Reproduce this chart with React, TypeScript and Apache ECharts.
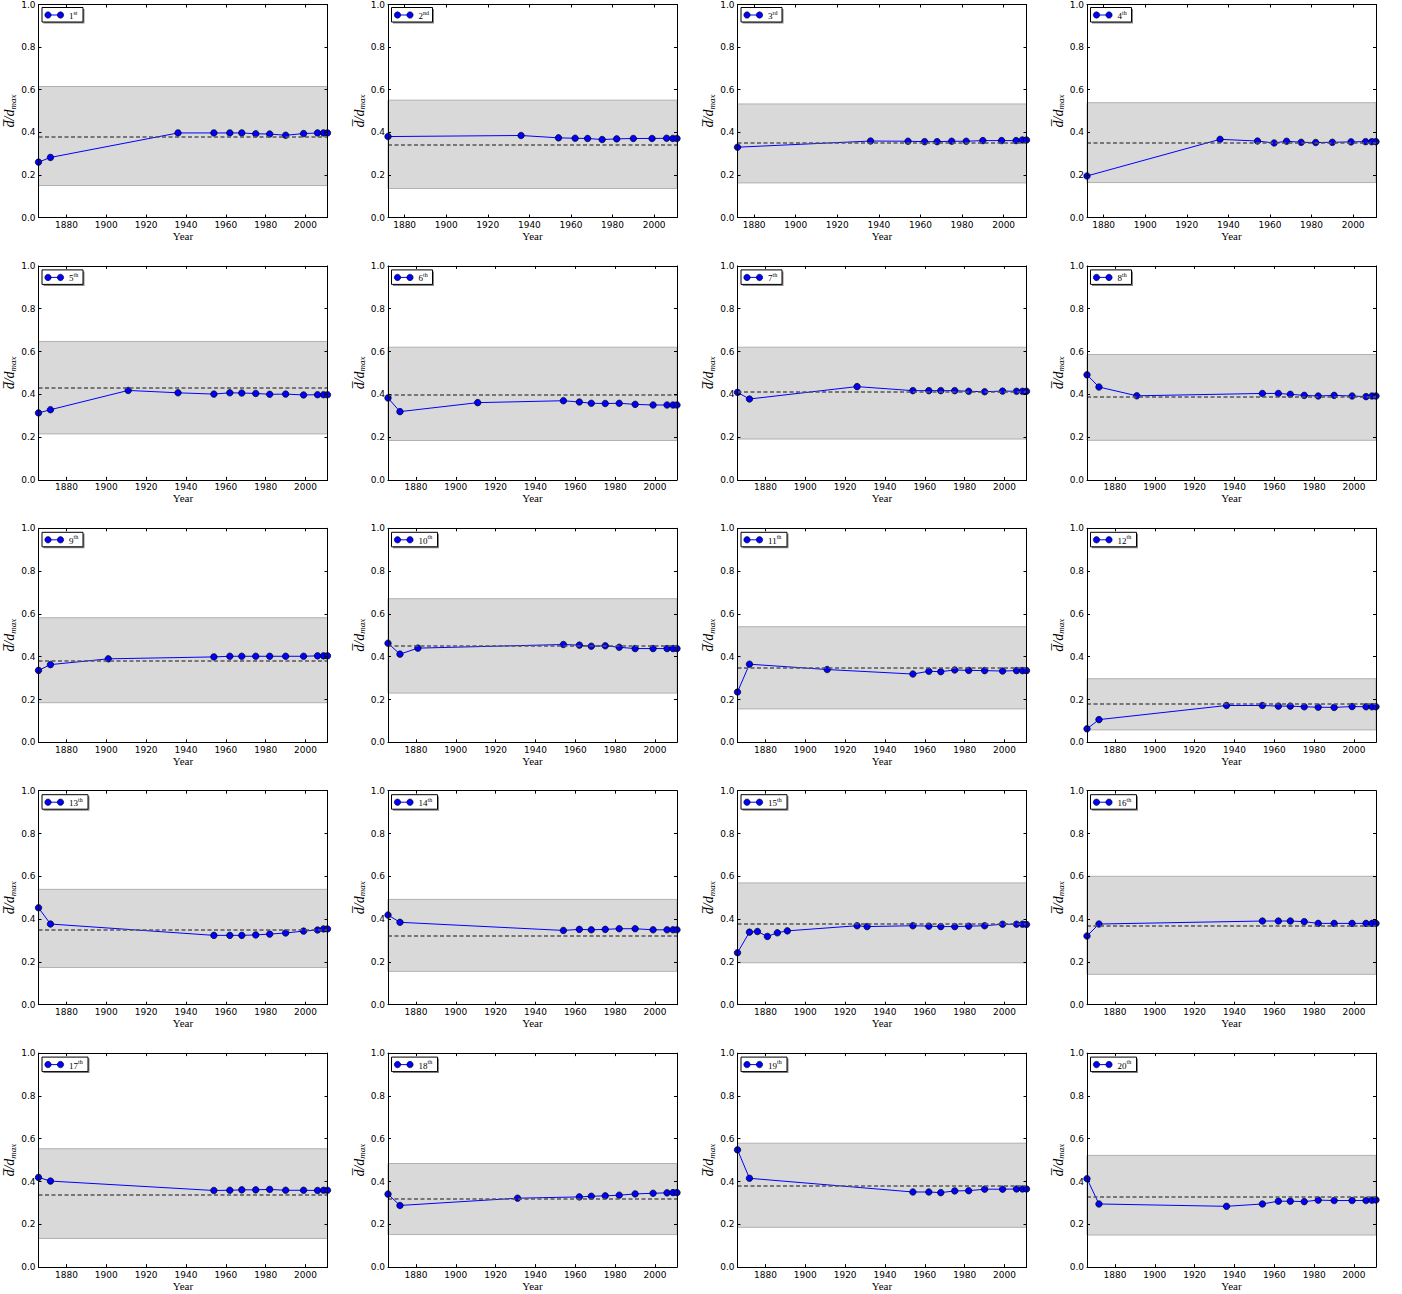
import React, { useEffect, useRef } from "react";
import * as echarts from "echarts";

// ---------- data ----------
const MODERN = [1954, 1962, 1968, 1975, 1982, 1990, 1999, 2006, 2009, 2011];
const YEARS_A = [1866, 1872, 1936, ...MODERN];
const YEARS_B = [1872, 1936, ...MODERN];
const YEARS_C = [1866, 1872, 1911, 1936, ...MODERN];
const YEARS_D = [1866, 1872, 1911, ...MODERN];
const YEARS_E = [1866, 1872, 1926, ...MODERN];
const YEARS_F = [1866, 1872, 1891, ...MODERN];
const YEARS_G = [1866, 1872, 1901, ...MODERN];
const YEARS_H = [1866, 1872, 1881, ...MODERN];
const YEARS_I = [1866, 1872, ...MODERN];
const YEARS_J = [1866, 1872, 1876, 1881, 1886, 1891, 1926, 1931, ...MODERN];
const YEARS_K = [1866, 1872, 1931, 1962, 1968, 1975, 1982, 1990, 1999, 2006, 2009, 2011];

const p1 = [0.26, 0.282, 0.397, 0.397, 0.397, 0.397, 0.393, 0.392, 0.386, 0.394, 0.397, 0.397, 0.397];
const p2 = [0.38, 0.385, 0.374, 0.372, 0.371, 0.366, 0.369, 0.371, 0.371, 0.372, 0.371, 0.371];
const p3 = [0.33, 0.359, 0.358, 0.356, 0.356, 0.358, 0.358, 0.361, 0.361, 0.361, 0.364, 0.364];
const p4 = [0.195, 0.367, 0.359, 0.35, 0.358, 0.353, 0.352, 0.353, 0.355, 0.356, 0.356, 0.356];
const p5 = [0.313, 0.328, 0.418, 0.407, 0.401, 0.407, 0.406, 0.404, 0.4, 0.401, 0.397, 0.398, 0.398, 0.398];
const p6 = [0.383, 0.319, 0.361, 0.37, 0.364, 0.358, 0.357, 0.358, 0.353, 0.35, 0.35, 0.35, 0.35];
const p7 = [0.409, 0.378, 0.436, 0.417, 0.417, 0.417, 0.417, 0.414, 0.412, 0.415, 0.414, 0.414, 0.414];
const p8 = [0.491, 0.434, 0.393, 0.404, 0.404, 0.4, 0.395, 0.392, 0.395, 0.392, 0.389, 0.392, 0.392];
const p9 = [0.336, 0.363, 0.39, 0.399, 0.402, 0.402, 0.402, 0.402, 0.402, 0.402, 0.404, 0.404, 0.404];
const p10 = [0.463, 0.412, 0.44, 0.457, 0.454, 0.449, 0.451, 0.444, 0.438, 0.438, 0.438, 0.438, 0.438];
const p11 = [0.235, 0.365, 0.34, 0.319, 0.332, 0.33, 0.338, 0.336, 0.335, 0.333, 0.335, 0.335, 0.335];
const p12 = [0.063, 0.106, 0.172, 0.172, 0.169, 0.169, 0.166, 0.164, 0.163, 0.167, 0.166, 0.166, 0.166];
const p13 = [0.453, 0.377, 0.324, 0.324, 0.324, 0.326, 0.33, 0.335, 0.344, 0.349, 0.354, 0.354];
const p14 = [0.419, 0.385, 0.347, 0.352, 0.35, 0.352, 0.355, 0.355, 0.35, 0.35, 0.35, 0.35];
const p15 = [0.243, 0.339, 0.342, 0.319, 0.336, 0.345, 0.369, 0.365, 0.369, 0.367, 0.365, 0.365, 0.367, 0.369, 0.376, 0.376, 0.376, 0.375];
const p16 = [0.321, 0.377, 0.391, 0.391, 0.391, 0.388, 0.38, 0.38, 0.38, 0.38, 0.38, 0.38];
const p17 = [0.419, 0.402, 0.358, 0.359, 0.361, 0.361, 0.363, 0.359, 0.359, 0.358, 0.359, 0.359];
const p18 = [0.341, 0.288, 0.322, 0.328, 0.331, 0.333, 0.336, 0.342, 0.345, 0.347, 0.348, 0.348];
const p19 = [0.548, 0.415, 0.351, 0.351, 0.348, 0.356, 0.357, 0.364, 0.364, 0.365, 0.365, 0.365];
const p20 = [0.413, 0.295, 0.284, 0.295, 0.308, 0.308, 0.306, 0.313, 0.311, 0.311, 0.311, 0.313, 0.314];

const bandLow = [0.15, 0.136, 0.1625, 0.164, 0.215, 0.184, 0.191, 0.185, 0.185, 0.23, 0.156, 0.058, 0.174, 0.156, 0.196, 0.142, 0.134, 0.152, 0.186, 0.15];
const bandHigh = [0.615, 0.551, 0.533, 0.539, 0.647, 0.62, 0.62, 0.586, 0.582, 0.671, 0.54, 0.297, 0.539, 0.492, 0.569, 0.6, 0.553, 0.484, 0.579, 0.522];
const means = [0.382, 0.343, 0.347, 0.352, 0.431, 0.404, 0.405, 0.387, 0.383, 0.451, 0.349, 0.178, 0.355, 0.324, 0.383, 0.37, 0.344, 0.317, 0.382, 0.334];

const rankNumbers = ["1", "2", "3", "4", "5", "6", "7", "8", "9", "10", "11", "12", "13", "14", "15", "16", "17", "18", "19", "20"];
const rankSuffixes = ["st", "nd", "rd", "th", "th", "th", "th", "th", "th", "th", "th", "th", "th", "th", "th", "th", "th", "th", "th", "th"];

const xTicks = [1880, 1900, 1920, 1940, 1960, 1980, 2000];

const panelYears = [YEARS_A, YEARS_B, YEARS_B, YEARS_B, YEARS_C, YEARS_D, YEARS_E, YEARS_F, YEARS_G, YEARS_H, YEARS_D, YEARS_A, YEARS_I, YEARS_I, YEARS_J, YEARS_I, YEARS_I, YEARS_K, YEARS_I, YEARS_A];
const panelValues = [p1, p2, p3, p4, p5, p6, p7, p8, p9, p10, p11, p12, p13, p14, p15, p16, p17, p18, p19, p20];

// ---------- layout ----------
const GRID_LEFT0 = 38.5;
const GRID_TOP0 = 3.5;
const COL_STEP = 349.5;
const ROW_STEP = 262.4;
const GRID_W = 289;
const GRID_H = 214;

const TICK_FONT = "DejaVu Sans";
const SERIF = "Liberation Serif";

function buildOption() {
  const grids: any[] = [];
  const xAxes: any[] = [];
  const yAxes: any[] = [];
  const series: any[] = [];
  const graphics: any[] = [];

  panelValues.forEach((vals, i) => {
    const years = panelYears[i];
    const r = Math.floor(i / 4);
    const c = i % 4;
    const left = GRID_LEFT0 + c * COL_STEP;
    const top = GRID_TOP0 + r * ROW_STEP;
    grids.push({ left, top, width: GRID_W, height: GRID_H, show: false });

    const xmin = years[0];
    const xmax = years[years.length - 1];
    const axisLine = { show: true, onZero: false, lineStyle: { color: "#000", width: 1 } };
    xAxes.push({
      gridIndex: i,
      type: "value",
      min: xmin,
      max: xmax,
      position: "bottom",
      z: 10,
      axisLine,
      axisTick: { show: true, inside: true, length: 3, customValues: xTicks, lineStyle: { color: "#000" } },
      axisLabel: {
        customValues: xTicks,
        fontSize: 9,
        color: "#000",
        margin: 3,
        fontFamily: TICK_FONT,
        formatter: (v: number) => String(Math.round(v)),
      },
      splitLine: { show: false },
      name: "Year",
      nameLocation: "middle",
      nameGap: 10,
      nameTextStyle: { fontFamily: SERIF, fontSize: 11, color: "#000", verticalAlign: "top" },
    });
    xAxes.push({
      gridIndex: i,
      type: "value",
      min: xmin,
      max: xmax,
      position: "top",
      z: 10,
      axisLine,
      axisTick: { show: true, inside: true, length: 3, customValues: xTicks, lineStyle: { color: "#000" } },
      axisLabel: { show: false },
      splitLine: { show: false },
    });
    yAxes.push({
      gridIndex: i,
      type: "value",
      min: 0,
      max: 1,
      interval: 0.2,
      position: "left",
      z: 10,
      axisLine,
      axisTick: { show: true, inside: true, length: 3, lineStyle: { color: "#000" } },
      axisLabel: {
        fontSize: 9,
        color: "#000",
        margin: 3,
        fontFamily: TICK_FONT,
        formatter: (v: number) => v.toFixed(1),
      },
      splitLine: { show: false },
      name: "{o|d\u0305}{i|/d}{s|max}",
      nameLocation: "middle",
      nameRotate: 90,
      nameGap: 19,
      nameTextStyle: {
        color: "#000",
        rich: {
          o: { fontFamily: SERIF, fontStyle: "italic", fontSize: 14, color: "#000", lineHeight: 15 },
          i: { fontFamily: SERIF, fontStyle: "italic", fontSize: 14, color: "#000", lineHeight: 15 },
          s: { fontFamily: SERIF, fontStyle: "italic", fontSize: 9, color: "#000", verticalAlign: "bottom", lineHeight: 11 },
        },
      },
    });
    yAxes.push({
      gridIndex: i,
      type: "value",
      min: 0,
      max: 1,
      interval: 0.2,
      position: "right",
      z: 10,
      axisLine,
      axisTick: { show: true, inside: true, length: 3, lineStyle: { color: "#000" } },
      axisLabel: { show: false },
      splitLine: { show: false },
    });

    // band + mean line
    series.push({
      type: "line",
      xAxisIndex: 2 * i,
      yAxisIndex: 2 * i,
      data: [],
      z: 1,
      silent: true,
      markArea: {
        silent: true,
        itemStyle: { color: "#d9d9d9", borderColor: "#b0b0b0", borderWidth: 1 },
        data: [[{ yAxis: bandLow[i] }, { yAxis: bandHigh[i] }]],
      },
      markLine: {
        silent: true,
        symbol: ["none", "none"],
        label: { show: false },
        lineStyle: { color: "#555", type: [4, 2.5], width: 1.5 },
        data: [{ yAxis: means[i] }],
      },
    });

    // data
    series.push({
      type: "line",
      xAxisIndex: 2 * i,
      yAxisIndex: 2 * i,
      z: 3,
      data: years.map((y, j) => [y, vals[j]]),
      symbol: "circle",
      symbolSize: 6.5,
      showAllSymbol: true,
      lineStyle: { color: "#0000ff", width: 1 },
      itemStyle: { color: "#0000ff", borderColor: "#000", borderWidth: 0.7 },
    });

    // legend box
    const twoDigit = rankNumbers[i].length > 1;
    const boxW = twoDigit ? 46 : 41;
    graphics.push({
      type: "group",
      x: left + 3.5,
      y: top + 4,
      z: 20,
      children: [
        { type: "rect", shape: { x: 1.5, y: 1.5, width: boxW, height: 14.5 }, style: { fill: "#888" } },
        { type: "rect", shape: { x: 0, y: 0, width: boxW, height: 14.5 }, style: { fill: "#fff", stroke: "#000", lineWidth: 1 } },
        { type: "line", shape: { x1: 6, y1: 7.5, x2: 18.5, y2: 7.5 }, style: { stroke: "#0000ff", lineWidth: 1 } },
        { type: "circle", shape: { cx: 6, cy: 7.5, r: 3.2 }, style: { fill: "#0000ff", stroke: "#000", lineWidth: 0.6 } },
        { type: "circle", shape: { cx: 18.5, cy: 7.5, r: 3.2 }, style: { fill: "#0000ff", stroke: "#000", lineWidth: 0.6 } },
        {
          type: "text",
          x: 27,
          y: 7.5,
          style: {
            text: "{n|" + rankNumbers[i] + "}{s|" + rankSuffixes[i] + "}",
            verticalAlign: "middle",
            rich: {
              n: { fontFamily: SERIF, fontSize: 9, fill: "#000", lineHeight: 11, verticalAlign: "bottom" },
              s: { fontFamily: SERIF, fontSize: 6, fill: "#000", lineHeight: 11, verticalAlign: "top", padding: [0, 0, 3, 0] },
            },
          },
        },
      ],
    });
  });

  return {
    animation: false,
    backgroundColor: "#fff",
    grid: grids,
    xAxis: xAxes,
    yAxis: yAxes,
    series,
    graphic: graphics,
  };
}

export default function App() {
  const ref = useRef<HTMLDivElement>(null);
  useEffect(() => {
    if (!ref.current) return;
    const chart = echarts.init(ref.current, undefined, { renderer: "svg" });
    chart.setOption(buildOption() as any);
    return () => chart.dispose();
  }, []);
  return (
    <div
      ref={ref}
      style={{ position: "absolute", left: 0, top: 0, width: 1402, height: 1294, background: "#fff" }}
    />
  );
}
